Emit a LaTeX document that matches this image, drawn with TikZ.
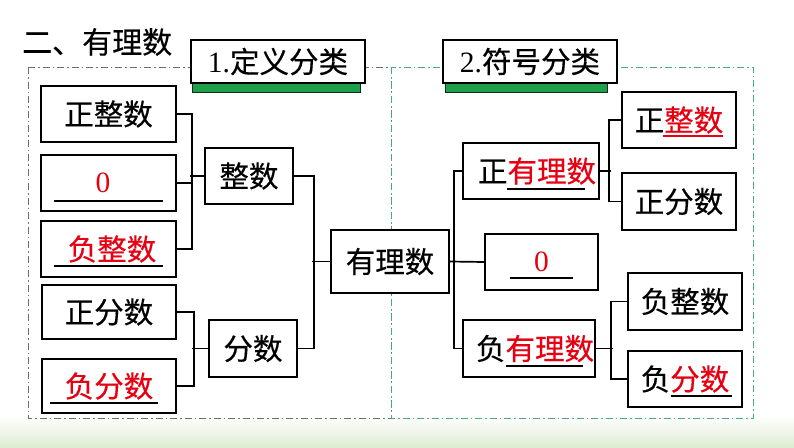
\documentclass[tikz,border=0pt]{standalone}
\usepackage{fontspec}
\setmainfont{Liberation Serif}
\newfontfamily\cjk[FakeBold=0.4]{Noto Sans CJK SC}
\definecolor{dashgray}{RGB}{110,110,110}
\definecolor{dashgreen}{RGB}{70,170,130}
\definecolor{bargreen}{RGB}{30,160,75}
\definecolor{bandgreen}{RGB}{222,236,210}
\definecolor{ansred}{RGB}{230,0,18}
\tikzset{
  x=1pt,y=-1pt,
  box/.style={draw=black,line width=1.9pt,fill=white,inner sep=0pt,font=\fontsize{29.5}{31}\selectfont\cjk},
  conn/.style={line width=1.7pt,black},
  uline/.style={line width=1.1pt},
  head/.style={draw=black,line width=1.9pt,fill=white,inner sep=0pt,minimum width=174,minimum height=43,font=\fontsize{29.5}{31}\selectfont},
  gbar/.style={fill=bargreen,draw=black!70!bargreen,line width=0.6pt},
}
\newcommand{\ans}[1]{\textcolor{ansred}{#1}}
\begin{document}
\begin{tikzpicture}
\useasboundingbox (0,0) rectangle (794,447);
\fill[white] (0,0) rectangle (794,447);
\shade[top color=white,bottom color=bandgreen] (0,416) rectangle (794,447);
% frames
\draw[dashgray,line width=1pt,dash pattern=on 7pt off 3pt on 1.5pt off 3pt] (28,67) rectangle (391,418);
\draw[dashgreen,line width=1pt,dash pattern=on 7pt off 3pt on 1.5pt off 3pt] (391,67) rectangle (753,418);
% title
\node[anchor=west,inner sep=0pt,font=\fontsize{30}{32}\selectfont\cjk] (title) at (22,42) {二、有理数};
% headers
\fill[gbar] (192,83) rectangle (360,92);
\node[head] (h1) at (278,61.5) {1.{\cjk 定义分类}};
\fill[gbar] (445,83) rectangle (607,92);
\node[head] (h2) at (530,61.5) {2.{\cjk 符号分类}};
% left column
\node[box,minimum width=135,minimum height=56] (L1) at (108.5,114) {正整数};
\node[box,minimum width=135,minimum height=56] (L2) at (108.5,183) {\ans{\rmfamily 0}\hspace*{11pt}};
\node[box,minimum width=135,minimum height=56] (L3) at (108.5,249) {\hspace*{7pt}\ans{负整数}};
\node[box,minimum width=134,minimum height=54] (L4) at (109,312) {正分数};
\node[box,minimum width=134,minimum height=54] (L5) at (109,386) {\ans{负分数}};
\node[box,minimum width=88,minimum height=56] (M1) at (249,176) {整数};
\node[box,minimum width=88,minimum height=57] (M2) at (253,348.5) {分数};
\node[box,minimum width=118,minimum height=63] (C) at (390,261.5) {有理数};
% right
\node[box,minimum width=136,minimum height=56] (R1) at (531,171) {\hspace*{12pt}正\ans{有理数}};
\node[box,minimum width=113,minimum height=56] (R2) at (541.5,262) {\ans{\rmfamily 0}};
\node[box,minimum width=132,minimum height=57] (R3) at (529,348.5) {\hspace*{12pt}负\ans{有理数}};
\node[box,minimum width=114,minimum height=56] (RR1) at (679,120) {正\ans{整数}};
\node[box,minimum width=114,minimum height=57] (RR2) at (679,201.5) {正分数};
\node[box,minimum width=114,minimum height=57] (RR3) at (685,301.5) {负整数};
\node[box,minimum width=114,minimum height=56] (RR4) at (685,379) {负\ans{分数}};
% underlines
\draw[uline] (54,201) -- (163,201);
\draw[uline] (54,266) -- (163,266);
\draw[uline] (50,403) -- (158,403);
\draw[uline,ansred] (663,136) -- (723,136);
\draw[uline] (507,189) -- (585,189);
\draw[uline] (510,278) -- (573,278);
\draw[uline] (506,366) -- (583,366);
\draw[uline] (671,396) -- (732,396);
% connectors
\draw[conn] (L1.east) -- ++(15,0) |- (L3.east);
\draw[conn] (L2.east) -- ++(15,0);
\draw[conn] (M1.west) -- ++(-14,0);
\draw[conn] (L4.east) -- ++(17,0) |- (L5.east);
\draw[conn] (M2.west) -- ++(-16,0);
\draw[conn] (M1.east) -- ++(20,0) |- (M2.east);
\draw[conn] (C.west) -- ++(-18,0);
\draw[conn] (R1.west) -- ++(-8,0) |- (R3.west);
\draw[conn] (C.east) -- (R2.west);
\draw[conn] (RR1.west) -- ++(-12,0) |- (RR2.west);
\draw[conn] (R1.east) -- ++(11,0);
\draw[conn] (RR3.west) -- ++(-16,0) |- (RR4.west);
\draw[conn] (R3.east) -- ++(17,0);
\end{tikzpicture}
\end{document}
